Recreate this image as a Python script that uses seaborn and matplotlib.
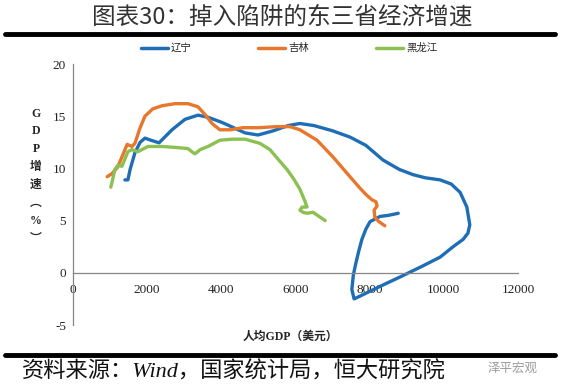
import pandas as pd
import matplotlib.pyplot as plt
import seaborn as sns
from matplotlib.lines import Line2D

# per-capita GDP (USD) vs GDP growth (%)
ln_x = [1400, 1480, 1540, 1670, 1810, 1940, 2100, 2320, 2670, 3020, 3370, 3640, 4020, 4640,
        4990, 5400, 5800, 6120, 6500, 7000, 7470, 7900, 8360, 8800, 9170, 9500, 9900, 10200,
        10440, 10620, 10700, 10650, 10520, 10250, 9900, 9400, 8820, 8400, 7930, 7700, 7580,
        7520, 7560, 7620, 7700, 7790, 7900, 8010, 8280, 8500, 8770]
ln_y = [8.9, 8.9, 9.9, 11.5, 12.5, 12.9, 12.7, 12.45, 13.7, 14.7, 15.1, 14.9, 14.4, 13.4,
        13.2, 13.6, 14.1, 14.3, 14.1, 13.6, 13.0, 12.2, 10.8, 9.9, 9.4, 9.1, 8.9, 8.5,
        7.7, 6.3, 4.6, 3.8, 3.2, 2.5, 1.5, 0.6, -0.4, -1.1, -1.9, -2.3, -2.5,
        -1.6, -0.2, 0.8, 2.0, 3.2, 4.2, 4.9, 5.4, 5.5, 5.7]

jl_x = [920, 1050, 1200, 1320, 1460, 1590, 1670, 1800, 1940, 2150, 2400, 2750, 3100, 3370,
        3550, 3750, 3960, 4250, 4580, 5000, 5500, 5850, 6120, 6580, 7010, 7470, 7740, 7900,
        8060, 8170, 8200, 8120, 8140, 8250, 8410]
jl_y = [9.2, 9.5, 10.1, 11.1, 12.3, 12.1, 12.4, 13.8, 15.0, 15.7, 16.0, 16.2, 16.2, 15.9,
        15.2, 14.3, 13.7, 13.7, 13.9, 13.9, 14.0, 14.0, 13.7, 12.7, 11.1, 9.2, 8.1, 7.5,
        7.0, 6.8, 6.4, 6.0, 5.3, 4.9, 4.5]

hl_x = [1020, 1080, 1130, 1210, 1320, 1400, 1480, 1590, 1750, 2020, 2400, 2800, 3100, 3240,
        3290, 3430, 3640, 3960, 4300, 4640, 5040, 5310, 5550, 5770, 5950, 6120, 6250, 6310,
        6180, 6120, 6200, 6310, 6470, 6800]
hl_y = [8.2, 9.1, 9.9, 10.3, 10.2, 10.9, 11.6, 11.8, 11.6, 12.1, 12.1, 12.0, 11.9, 11.5,
        11.4, 11.8, 12.1, 12.7, 12.8, 12.8, 12.4, 11.8, 10.8, 9.9, 9.0, 8.0, 6.9, 6.3,
        6.3, 6.0, 5.8, 5.7, 5.8, 5.0]

provinces = ['辽宁', '吉林', '黑龙江']
colors = ['#1F6EB5', '#E8772E', '#8CC152']
x_ticks = [0, 2000, 4000, 6000, 8000, 10000, 12000]
y_ticks = [-5, 0, 5, 10, 15, 20]

frames = []
for name, xs, ys in zip(provinces, [ln_x, jl_x, hl_x], [ln_y, jl_y, hl_y]):
    frames.append(pd.DataFrame({'x': xs, 'y': ys, 'prov': name}))
df = pd.concat(frames, ignore_index=True)

sns.set_style('white')
plt.rcParams['font.family'] = ['Noto Sans CJK SC', 'DejaVu Sans']

fig = plt.figure(figsize=(5.65, 3.9), dpi=100)
ax = fig.add_axes([73 / 565, 1 - 325 / 390, 445 / 565, 261 / 390])

sns.lineplot(data=df, x='x', y='y', hue='prov', hue_order=provinces, palette=colors,
             sort=False, estimator=None, units='prov', linewidth=2.4, legend=False, ax=ax)

# spine position first: it resets the tick labels
for s in ['top', 'right']:
    ax.spines[s].set_visible(False)
ax.spines['bottom'].set_position(('data', 0))
for s in ['left', 'bottom']:
    ax.spines[s].set_color('#868686')
    ax.spines[s].set_linewidth(0.9)

ax.set_xlim(0, 12000)
ax.set_ylim(-5, 20)
ax.set_xticks(x_ticks)
ax.set_yticks(y_ticks)
ax.set_xticklabels([str(v) for v in x_ticks])
ax.set_yticklabels([str(v) for v in y_ticks])
for lbl in ax.get_xticklabels() + ax.get_yticklabels():
    lbl.set_family('Liberation Serif')
    lbl.set_fontsize(9.5)
    lbl.set_color('#222222')
ax.set_xlabel('')
ax.set_ylabel('')
ax.tick_params(axis='both', direction='out', length=3, width=0.8, color='#868686', pad=2)
ax.tick_params(axis='x', pad=5)

handles = [Line2D([], [], color=c, lw=2.5) for c in colors]
fig.legend(handles, provinces, loc='center', bbox_to_anchor=(289 / 565, 1 - 48 / 390),
           ncol=3, frameon=False, fontsize=7.5, handlelength=2.6, handletextpad=0.3,
           columnspacing=6.4)

# titles and labels
fig.text(0.5, 1 - 17 / 390, '图表30：掉入陷阱的东三省经济增速', ha='center', va='center',
         fontsize=17, color='#333333')
fig.add_artist(Line2D([5 / 565, 555 / 565], [1 - 34 / 390] * 2, color='black', lw=3.5))
fig.add_artist(Line2D([5 / 565, 555 / 565], [1 - 355 / 390] * 2, color='black', lw=3.5))
fig.text(36 / 565, 1 - 176 / 390, 'G\nD\nP\n增\n速\n︵\n%\n︶', ha='center', va='center',
         fontsize=8.5, fontweight='bold', linespacing=1.65,
         family=['Liberation Serif', 'Noto Sans CJK SC'])
fig.text(290 / 565, 1 - 337 / 390, '人均GDP（美元）', ha='center', va='center', fontsize=8.5,
         fontweight='bold', family=['Liberation Serif', 'Noto Sans CJK SC'])
fig.text(22 / 565, 1 - 372 / 390, '资料来源：Wind，国家统计局，恒大研究院', ha='left',
         va='center', fontsize=16, color='#111111',
         family=['Liberation Serif', 'Noto Sans CJK SC'], style='italic')
fig.text(488 / 565, 1 - 368 / 390, '泽平宏观', ha='left', va='center', fontsize=9,
         color='#9a9a9a')

plt.savefig('out.png', dpi=100)
